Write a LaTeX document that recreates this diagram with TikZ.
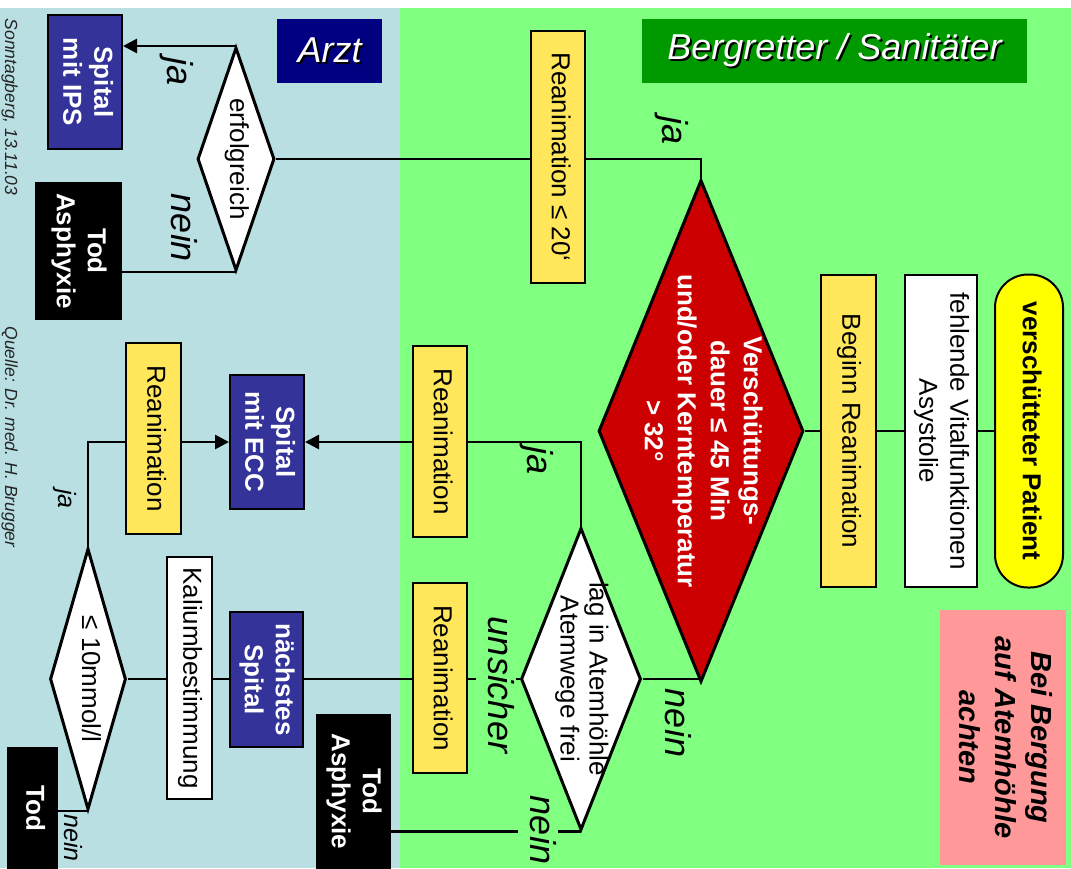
\documentclass[tikz,border=0pt]{standalone}
\usepackage{fontspec}
\setmainfont{Liberation Sans}
\usepackage{graphicx}
\usetikzlibrary{shapes.geometric,arrows.meta}
\definecolor{bluebg}{RGB}{185,223,227}
\definecolor{greenbg}{RGB}{128,255,128}
\definecolor{ylw}{RGB}{255,230,90}
\definecolor{navyhdr}{RGB}{0,0,128}
\definecolor{greenhdr}{RGB}{0,153,0}
\definecolor{bluebox}{RGB}{51,51,153}
\definecolor{reddia}{RGB}{204,0,0}
\definecolor{pinkbox}{RGB}{255,153,153}
\definecolor{patyel}{RGB}{255,255,0}
\newcommand{\rot}[1]{\rotatebox{-90}{\begin{tabular}{@{}c@{}}#1\end{tabular}}}
\newcommand{\shadowtext}[1]{\makebox[0pt][l]{\kern2pt\raisebox{-2pt}{\color{black}#1}}#1}
\pgfdeclarelayer{bg}
\pgfdeclarelayer{lines}
\pgfsetlayers{bg,lines,main}
\tikzset{
 sz/.style 2 args={minimum width=#1pt, minimum height=#2pt},
 box/.style={draw=black, line width=2pt, inner sep=0pt, font=\fontsize{26}{31}\selectfont},
 bbox/.style={box, font=\fontsize{26}{31}\selectfont\bfseries},
 dia/.style={diamond, draw=black, line width=3pt, inner sep=0pt, fill=white},
 dtext/.style={inner sep=0pt, font=\fontsize{26}{29}\selectfont},
 conn/.style={draw=black, line width=2.7pt},
 arr/.style={conn, -{Triangle[length=14pt,width=14pt]}},
 lbl/.style={inner sep=0pt, font=\fontsize{36}{40}\selectfont\itshape},
 slbl/.style={inner sep=0pt, font=\fontsize{25}{28}\selectfont\itshape},
 hdr/.style={inner sep=0pt, text=white, font=\fontsize{36}{40}\selectfont\itshape},
 note/.style={inner sep=0pt, text=black!85, font=\fontsize{17.5}{20}\selectfont\itshape},
}
\begin{document}
\begin{tikzpicture}[x=1pt,y=-1pt]
\useasboundingbox (0,0) rectangle (1071,868);
\begin{pgfonlayer}{bg}
\fill[white] (0,0) rectangle (1071,868);
\fill[bluebg] (0,8) rectangle (400,868);
\fill[greenbg] (400,8) rectangle (1071,868);
\end{pgfonlayer}

% headers
\node[hdr, fill=navyhdr, sz={105}{64}] (arzt) at (329.5,51) {\shadowtext{Arzt}};
\node[hdr, fill=greenhdr, sz={385}{64}] (berg) at (834.5,51) {\shadowtext{Bergretter / Sanitäter}};

% margin notes
\node[note] (n1) at (9,107) {\rot{Sonntagberg, 13.11.03}};
\node[note] (n2) at (9,437) {\rot{Quelle: Dr. med. H. Brugger}};

% boxes
\node[bbox, fill=bluebox, text=white, sz={74}{134}] (ips) at (85,82) {\rot{Spital\\mit IPS}};
\node[bbox, fill=black, text=white, sz={85}{136}] (todA1) at (78.5,251) {\rot{Tod\\Asphyxie}};
\node[box, fill=ylw, sz={54}{252}] (rean20) at (558,157) {\rot{Reanimation ≤ 20‘}};
\node[box, fill=ylw, sz={55}{312}] (beg) at (848.5,431) {\rot{Beginn Reanimation}};
\node[box, fill=white, sz={72}{312}] (fehl) at (941,431) {\rot{fehlende Vitalfunktionen\\Asystolie}};
\node[bbox, fill=patyel, rounded corners=33pt, sz={68}{313}] (pat) at (1029,431) {\rot{verschütteter Patient}};
\node[inner sep=0pt, fill=pinkbox, sz={126}{255}, font=\fontsize{29}{36}\selectfont\bfseries\itshape] (bei) at (1003,737.5) {\rot{Bei Bergung\\auf Atemhöhle\\achten}};
\node[bbox, fill=bluebox, text=white, sz={74}{134}] (ecc) at (267,442) {\rot{Spital\\mit ECC}};
\node[box, fill=ylw, sz={55}{191}] (reanUL) at (153.5,438.5) {\rot{Reanimation}};
\node[box, fill=ylw, sz={54}{191}] (reanM) at (440,441.5) {\rot{Reanimation}};
\node[box, fill=ylw, sz={54}{190}] (reanL) at (440,678) {\rot{Reanimation}};
\node[box, fill=white, sz={45}{242}] (kal) at (189.5,678) {\rot{Kaliumbestimmung}};
\node[bbox, fill=bluebox, text=white, sz={73}{135}] (nsp) at (266.5,679.5) {\rot{nächstes\\Spital}};
\node[bbox, fill=black, text=white, sz={73}{153}] (todA2) at (353.5,791.5) {\rot{Tod\\Asphyxie}};
\node[bbox, fill=black, text=white, sz={49}{120}] (tod) at (32.5,808) {\rot{Tod}};

% diamonds
\node[dia, sz={77}{223}, label={[dtext]center:{\rot{erfolgreich}}}] (erf) at (236,159) {};
\node[dia, fill=reddia, sz={205}{502}, label={[dtext, text=white, font=\fontsize{26}{33}\selectfont\bfseries]center:{\rot{Verschüttungs-\\dauer ≤ 45 Min\\und/oder Kerntemperatur\\> 32°}}}] (red) at (701,431) {};
\node[dia, sz={120}{302}, label={[dtext]center:{\rot{lag in Atemhöhle\\Atemwege frei}}}] (lag) at (581,679) {};
\node[dia, sz={76}{261}, label={[dtext]center:{\rot{≤ 10mmol/l}}}] (k10) at (88,679) {};

% connectors
\begin{pgfonlayer}{lines}
\draw[arr] (erf.north) -- (erf.north -| ips.east);
\draw[conn] (erf.south) -- (erf.south -| todA1.east);
\draw[conn] (red.north) |- (erf.east);
\draw[conn] (red.east) -- (beg.west);
\draw[conn] (beg.east) -- (fehl.west);
\draw[conn] (fehl.east) -- (pat.west);
\draw[conn] (lag.east) -- (lag.east -| red.south);
\draw[arr] (lag.north) |- (ecc.east);
\draw[conn] (lag.west) -- (k10.east);
\draw[conn] (lag.south) -- (lag.south -| todA2.east);
\draw[arr] (k10.north) |- (ecc.west);
\draw[conn] (k10.south) -- (k10.south -| tod.east);
\end{pgfonlayer}

% labels
\node[lbl] (l1) at (175,72) {\rot{ja}};
\node[lbl] (l2) at (179,228) {\rot{nein}};
\node[lbl] (l3) at (670,131) {\rot{ja}};
\node[lbl] (l4) at (535,461) {\rot{ja}};
\node[lbl] (l5) at (673,723) {\rot{nein}};
\node[lbl, fill=greenbg] (l6) at (496,685) {\rot{unsicher}};
\node[lbl, fill=greenbg] (l7) at (538,830) {\rot{nein}};
\node[slbl] (l8) at (64,499) {\rot{ja}};
\node[slbl] (l9) at (70,838) {\rot{nein}};
\end{tikzpicture}
\end{document}
